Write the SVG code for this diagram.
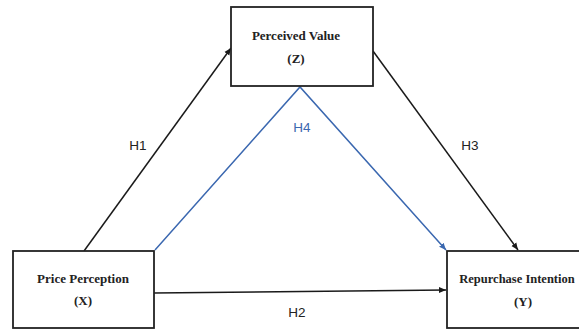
<svg xmlns="http://www.w3.org/2000/svg" width="579" height="331" viewBox="0 0 579 331">
<style>
.box{fill:#fff;stroke:#222;stroke-width:1.8}
.nt{font-family:"Liberation Serif","Times New Roman",serif;font-weight:bold;font-size:13px;fill:#222;text-anchor:middle}
.lb{font-family:"Liberation Sans",Arial,sans-serif;font-size:13.5px;fill:#222;text-anchor:middle}
.ln{fill:none;stroke:#1a1a1a;stroke-width:1.5}
.bl{fill:none;stroke:#3b68b0;stroke-width:1.5}
</style>
<defs>
<marker id="ak" markerWidth="8" markerHeight="8" refX="7" refY="4" orient="auto" markerUnits="userSpaceOnUse"><path d="M0,1 L7,4 L0,7 Z" fill="#1a1a1a"/></marker>
<marker id="ab" markerWidth="8" markerHeight="8" refX="7" refY="4" orient="auto" markerUnits="userSpaceOnUse"><path d="M0,1 L7,4 L0,7 Z" fill="#3b68b0"/></marker>
</defs>
<rect width="579" height="331" fill="#fff"/>
<g id="connectors">
<line class="ln" x1="84" y1="251" x2="231" y2="48" marker-end="url(#ak)"/>
<line class="ln" x1="373" y1="51" x2="518" y2="250" marker-end="url(#ak)"/>
<line class="ln" x1="154" y1="293" x2="446" y2="290" marker-end="url(#ak)"/>
<polyline class="bl" points="155,250 300,87 446,250" marker-end="url(#ab)"/>
<text class="lb" x="138" y="150">H1</text>
<text class="lb" x="470" y="150">H3</text>
<text class="lb" x="297" y="317">H2</text>
<text class="lb" x="302" y="132" style="fill:#3b68b0">H4</text>
</g>
<g id="perceived-value">
<rect class="box" x="231" y="7" width="142" height="79"/>
<text class="nt" x="296" y="40">Perceived Value</text>
<text class="nt" x="296" y="63">(Z)</text>
</g>
<g id="price-perception">
<rect class="box" x="13" y="251" width="141" height="77"/>
<text class="nt" x="83" y="283">Price Perception</text>
<text class="nt" x="83" y="305">(X)</text>
</g>
<g id="repurchase-intention">
<rect class="box" x="447" y="251" width="150" height="77"/>
<text class="nt" x="517" y="283" style="font-size:12.5px">Repurchase Intention</text>
<text class="nt" x="523" y="306">(Y)</text>
</g>
</svg>
